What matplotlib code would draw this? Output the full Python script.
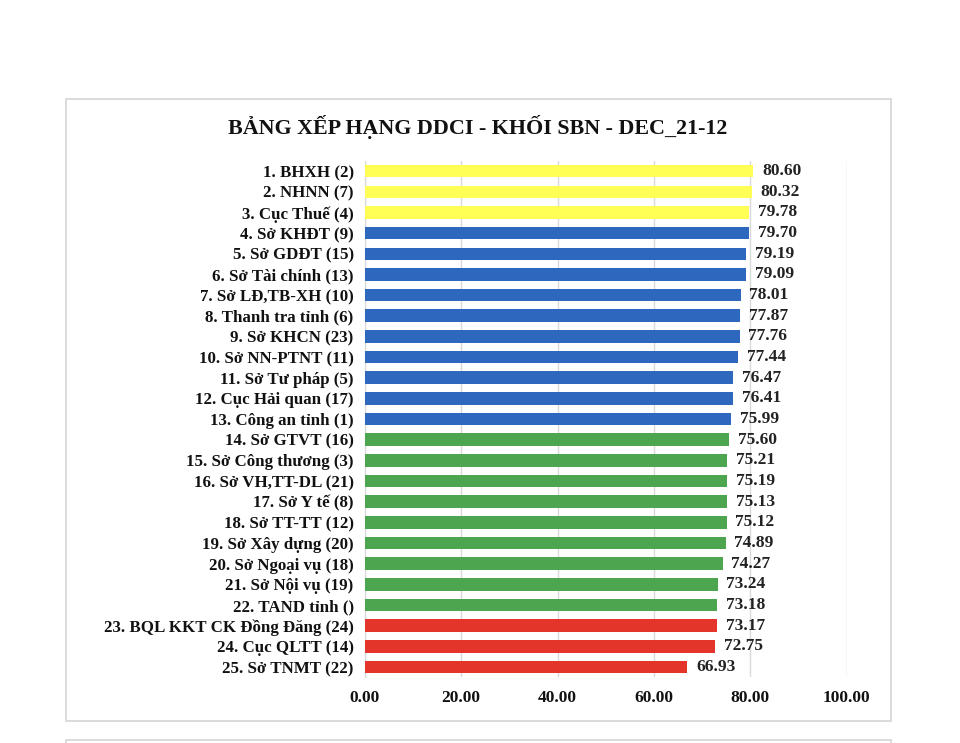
import matplotlib
matplotlib.use("Agg")
import matplotlib.pyplot as plt
from matplotlib.patches import Rectangle

# ── Data ──────────────────────────────────────────────────────────────────────
labels = [
    "1. BHXH (2)", "2. NHNN (7)", "3. Cục Thuế (4)", "4. Sở KHĐT (9)",
    "5. Sở GDĐT (15)", "6. Sở Tài chính (13)", "7. Sở LĐ,TB-XH (10)",
    "8. Thanh tra tỉnh (6)", "9. Sở KHCN (23)", "10. Sở NN-PTNT (11)",
    "11. Sở Tư pháp (5)", "12. Cục Hải quan (17)", "13. Công an tỉnh (1)",
    "14. Sở GTVT (16)", "15. Sở Công thương (3)", "16. Sở VH,TT-DL (21)",
    "17. Sở Y tế (8)", "18. Sở TT-TT (12)", "19. Sở Xây dựng (20)",
    "20. Sở Ngoại vụ (18)", "21. Sở Nội vụ (19)", "22. TAND tỉnh ()",
    "23. BQL KKT CK Đồng Đăng (24)", "24. Cục QLTT (14)", "25. Sở TNMT (22)",
]
scores = [80.60, 80.32, 79.78, 79.70, 79.19, 79.09, 78.01, 77.87, 77.76, 77.44,
          76.47, 76.41, 75.99, 75.60, 75.21, 75.19, 75.13, 75.12, 74.89, 74.27,
          73.24, 73.18, 73.17, 72.75, 66.93]
groups = ["top"] * 3 + ["good"] * 10 + ["mid"] * 9 + ["low"] * 3
group_colors = {"top": "#FFFF55", "good": "#2E68BE", "mid": "#4DA64F", "low": "#E4352B"}
xticks = [0, 20, 40, 60, 80, 100]

plt.rcParams["font.family"] = ["Liberation Serif", "DejaVu Serif"]

fig = plt.figure(figsize=(9.6, 7.43), dpi=100)
fig.patch.set_facecolor("white")

# chart-area frame, like the Excel chart border
fig.patches.append(Rectangle((66 / 960, 1 - 721 / 743), 825 / 960, 622 / 743,
                             transform=fig.transFigure, fill=False,
                             edgecolor="#D4D4D4", linewidth=1.2))
fig.patches.append(Rectangle((66 / 960, -0.01), 825 / 960, 0.014,
                             transform=fig.transFigure, fill=False,
                             edgecolor="#D4D4D4", linewidth=1.2))

ax = fig.add_axes([0.380, 0.0884, 0.502, 0.6953])
ypos = list(range(len(labels)))
bars = ax.barh(ypos, scores, height=0.6,
               color=[group_colors[g] for g in groups], zorder=3)

for y, v in zip(ypos, scores):
    ax.text(v + 1.8, y, f"{v:.2f}", ha="left", va="center",
            fontsize=12.5, fontweight="bold", color="#222222", zorder=4)

ax.set_xlim(0, 100)
ax.set_ylim(len(labels) - 0.5, -0.5)
ax.set_xticks(xticks)
ax.set_xticklabels([f"{t:.2f}" for t in xticks], fontsize=12.5, fontweight="bold")
ax.set_yticks(ypos)
ax.set_yticklabels(labels, fontsize=12.2, fontweight="bold")
ax.tick_params(length=0, pad=8, colors="#111111")
ax.tick_params(axis="x", pad=9)
ax.grid(axis="x", color="#D9D9D9", linewidth=1, zorder=0)
for s in ["top", "right", "bottom"]:
    ax.spines[s].set_visible(False)
ax.spines["left"].set_color("#D9D9D9")

fig.text(478 / 960, 1 - 127 / 743, "BẢNG XẾP HẠNG DDCI - KHỐI SBN - DEC_21-12",
         ha="center", va="center", fontsize=15.8, fontweight="bold", color="#111111")

plt.savefig("out.png", dpi=100)
plt.close()
